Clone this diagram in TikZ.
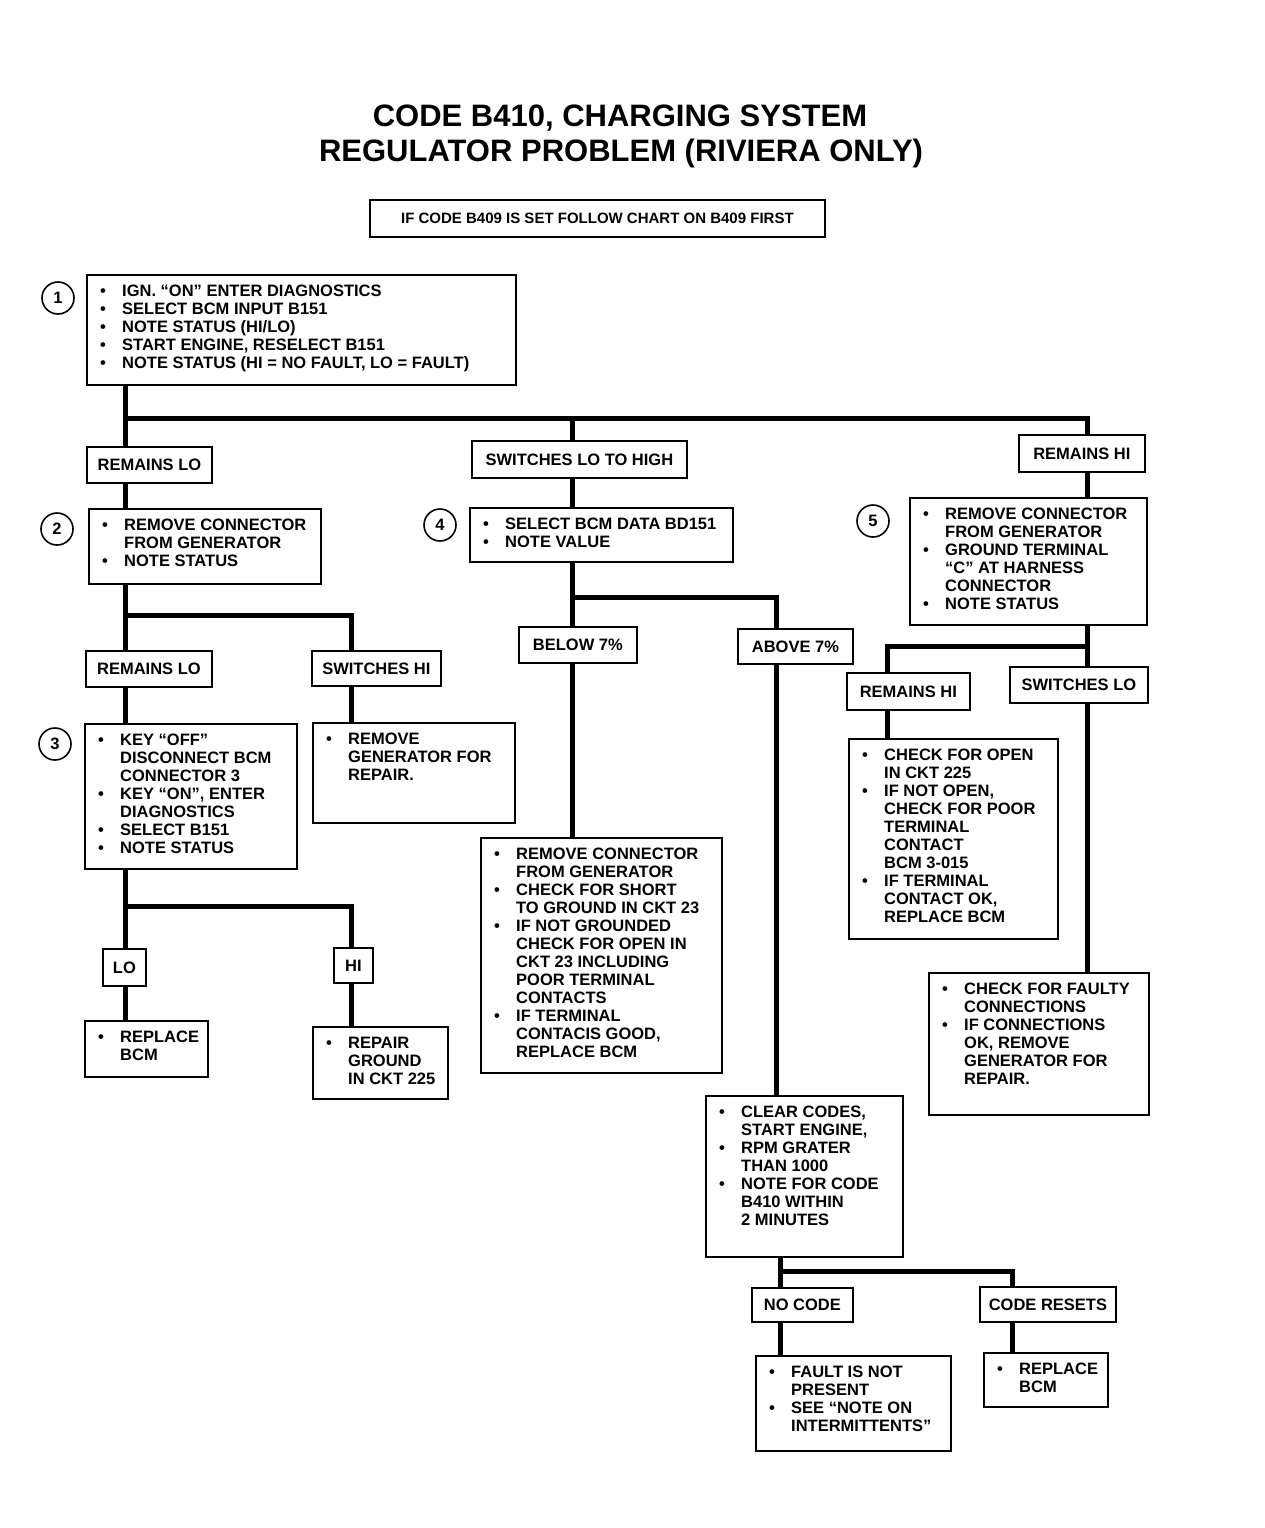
\documentclass[tikz,border=0pt]{standalone}
\usepackage{fontspec}
\setmainfont{Liberation Sans}
\usetikzlibrary{calc}
\newcommand\lst[1]{\begin{tabular}{@{}p{22pt}@{}l@{}}#1\end{tabular}}
\newcommand\itm{\textbullet&}
\newcommand\cbox[6]{%
  \node[box, minimum width={#4-#2}, minimum height={#5-#3}] (#1) at (#2,#3) {};
  \node[txt] (#1t) at (#2+14,#3+10) {\lst{#6}};}
\newcommand\lab[6]{%
  \node[lbl, minimum width={#4-#2}, minimum height={#5-#3}] (#1) at (#2,#3) {#6};}
\begin{document}
\begin{tikzpicture}[x=1pt,y=-1pt,
  every node/.style={font=\bfseries\fontsize{16.5}{18}\selectfont},
  box/.style={draw, line width=1.8pt, inner sep=0pt, anchor=north west},
  lbl/.style={draw, line width=1.8pt, inner sep=0pt, anchor=north west, align=center},
  txt/.style={inner sep=0pt, anchor=north west, align=left},
  conn/.style={line width=5pt},
  num/.style={draw, circle, line width=1.6pt, minimum size=32pt, inner sep=0pt},
  ttl/.style={font=\bfseries\fontsize{31}{35}\selectfont, anchor=base, inner sep=0pt}]
\useasboundingbox (0,0) rectangle (1264,1528);
% title
\node[ttl] (t1) at (620,126) {CODE B410, CHARGING SYSTEM};
\node[ttl] (t2) at (621,161) {REGULATOR PROBLEM (RIVIERA ONLY)};
\node[lbl, minimum width=455, minimum height=37, font=\bfseries\fontsize{15}{18}\selectfont] (note) at (369,199) {IF CODE B409 IS SET FOLLOW CHART ON B409 FIRST};
% step circles
\node[num] (c1) at (58,298) {1};
\node[num] (c2) at (57,529) {2};
\node[num] (c3) at (55,744) {3};
\node[num] (c4) at (440,525) {4};
\node[num] (c5) at (873,521) {5};
% boxes
\cbox{b1}{86}{274}{515}{384}{\itm IGN. “ON” ENTER DIAGNOSTICS\\ \itm SELECT BCM INPUT B151\\ \itm NOTE STATUS (HI/LO)\\ \itm START ENGINE, RESELECT B151\\ \itm NOTE STATUS (HI = NO FAULT, LO = FAULT)}
\cbox{b2}{88}{508}{320}{583}{\itm REMOVE CONNECTOR\\ & FROM GENERATOR\\ \itm NOTE STATUS}
\cbox{b4}{469}{507}{732}{561}{\itm SELECT BCM DATA BD151\\ \itm NOTE VALUE}
\cbox{b5}{909}{497}{1146}{624}{\itm REMOVE CONNECTOR\\ & FROM GENERATOR\\ \itm GROUND TERMINAL\\ & “C” AT HARNESS\\ & CONNECTOR\\ \itm NOTE STATUS}
\cbox{b3}{84}{723}{296}{868}{\itm KEY “OFF”\\ & DISCONNECT BCM\\ & CONNECTOR 3\\ \itm KEY “ON”, ENTER\\ & DIAGNOSTICS\\ \itm SELECT B151\\ \itm NOTE STATUS}
\cbox{bg}{312}{722}{514}{822}{\itm REMOVE\\ & GENERATOR FOR\\ & REPAIR.}
\cbox{br}{84}{1020}{207}{1076}{\itm REPLACE\\ & BCM}
\cbox{bgnd}{312}{1026}{447}{1098}{\itm REPAIR\\ & GROUND\\ & IN CKT 225}
\cbox{bs}{480}{837}{721}{1072}{\itm REMOVE CONNECTOR\\ & FROM GENERATOR\\ \itm CHECK FOR SHORT\\ & TO GROUND IN CKT 23\\ \itm IF NOT GROUNDED\\ & CHECK FOR OPEN IN\\ & CKT 23 INCLUDING\\ & POOR TERMINAL\\ & CONTACTS\\ \itm IF TERMINAL\\ & CONTACIS GOOD,\\ & REPLACE BCM}
\cbox{bc}{705}{1095}{902}{1256}{\itm CLEAR CODES,\\ & START ENGINE,\\ \itm RPM GRATER\\ & THAN 1000\\ \itm NOTE FOR CODE\\ & B410 WITHIN\\ & 2 MINUTES}
\cbox{bf}{755}{1355}{950}{1450}{\itm FAULT IS NOT\\ & PRESENT\\ \itm SEE “NOTE ON\\ & INTERMITTENTS”}
\cbox{brb}{983}{1352}{1107}{1406}{\itm REPLACE\\ & BCM}
\cbox{bo}{848}{738}{1057}{938}{\itm CHECK FOR OPEN\\ & IN CKT 225\\ \itm IF NOT OPEN,\\ & CHECK FOR POOR\\ & TERMINAL\\ & CONTACT\\ & BCM 3-015\\ \itm IF TERMINAL\\ & CONTACT OK,\\ & REPLACE BCM}
\cbox{bfc}{928}{972}{1148}{1114}{\itm CHECK FOR FAULTY\\ & CONNECTIONS\\ \itm IF CONNECTIONS\\ & OK, REMOVE\\ & GENERATOR FOR\\ & REPAIR.}
% labels
\lab{rl1}{86}{446}{211}{482}{REMAINS LO}
\lab{sw1}{471}{440}{686}{477}{SWITCHES LO TO HIGH}
\lab{rh1}{1018}{434}{1144}{471}{REMAINS HI}
\lab{rl2}{85}{650}{211}{686}{REMAINS LO}
\lab{sh2}{311}{650}{440}{685}{SWITCHES HI}
\lab{lo3}{102}{948}{145}{985}{LO}
\lab{hi3}{333}{947}{372}{982}{HI}
\lab{be4}{518}{626}{636}{662}{BELOW 7\%}
\lab{ab4}{737}{628}{852}{663}{ABOVE 7\%}
\lab{nc}{751}{1287}{852}{1321}{NO CODE}
\lab{cr}{979}{1286}{1115}{1321}{CODE RESETS}
\lab{rh5}{846}{672}{969}{709}{REMAINS HI}
\lab{sl5}{1009}{666}{1147}{702}{SWITCHES LO}
% junctions
\coordinate (j1) at (125,418); \coordinate (j1m) at (572,418); \coordinate (j1r) at (1087,418);
\coordinate (j2) at (125,615); \coordinate (j2r) at (351,615);
\coordinate (j3) at (125,906); \coordinate (j3r) at (351,906);
\coordinate (j4) at (572,597); \coordinate (j4r) at (776,597);
\coordinate (j5) at (1087,646); \coordinate (j5l) at (887,646);
\coordinate (j6) at (780,1271); \coordinate (j6r) at (1012,1271);
% connectors
\draw[conn] (j1 |- b1.south) -- (j1) -- (j1 |- rl1.north);
\draw[conn] (j1) -- (j1r) -- (j1r |- rh1.north);
\draw[conn] (j1m) -- (j1m |- sw1.north);
\draw[conn] (j1 |- rl1.south) -- (j1 |- b2.north);
\draw[conn] (j1m |- sw1.south) -- (j1m |- b4.north);
\draw[conn] (j1r |- rh1.south) -- (j1r |- b5.north);
\draw[conn] (j2 |- b2.south) -- (j2) -- (j2 |- rl2.north);
\draw[conn] (j2) -- (j2r) -- (j2r |- sh2.north);
\draw[conn] (j2 |- rl2.south) -- (j2 |- b3.north);
\draw[conn] (j2r |- sh2.south) -- (j2r |- bg.north);
\draw[conn] (j3 |- b3.south) -- (j3) -- (j3 |- lo3.north);
\draw[conn] (j3) -- (j3r) -- (j3r |- hi3.north);
\draw[conn] (j3 |- lo3.south) -- (j3 |- br.north);
\draw[conn] (j3r |- hi3.south) -- (j3r |- bgnd.north);
\draw[conn] (j4 |- b4.south) -- (j4) -- (j4 |- be4.north);
\draw[conn] (j4) -- (j4r) -- (j4r |- ab4.north);
\draw[conn] (j4 |- be4.south) -- (j4 |- bs.north);
\draw[conn] (j4r |- ab4.south) -- (j4r |- bc.north);
\draw[conn] (j6 |- bc.south) -- (j6) -- (j6 |- nc.north);
\draw[conn] (j6) -- (j6r) -- (j6r |- cr.north);
\draw[conn] (j6 |- nc.south) -- (j6 |- bf.north);
\draw[conn] (j6r |- cr.south) -- (j6r |- brb.north);
\draw[conn] (j5 |- b5.south) -- (j5) -- (j5 |- sl5.north);
\draw[conn] (j5) -- (j5l) -- (j5l |- rh5.north);
\draw[conn] (j5 |- sl5.south) -- (j5 |- bfc.north);
\draw[conn] (j5l |- rh5.south) -- (j5l |- bo.north);
\end{tikzpicture}
\end{document}
